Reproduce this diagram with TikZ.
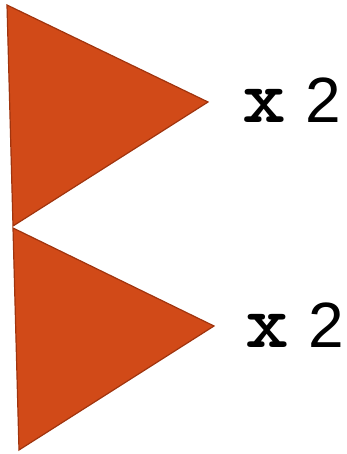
\documentclass[tikz,border=0pt]{standalone}
\usepackage{fontspec}
\setmainfont{Liberation Sans}
\newfontfamily\xmono{lmmonolt10-bold.otf}
\usetikzlibrary{positioning}
\definecolor{flagfill}{RGB}{209, 74, 24}
\definecolor{flagline}{RGB}{160, 52, 14}
\newcommand{\timestwo}{{\xmono\fontsize{76}{76}\selectfont\scalebox{1.1}[1]{x}}\hspace{19pt}2}

\begin{document}
\begin{tikzpicture}[
      x=1pt, y=-1pt,
      flag/.style={fill=flagfill, draw=flagline, line width=1.2pt, line join=miter},
      count/.style={anchor=base west, inner sep=0pt, font=\fontsize{64}{64}\selectfont}
    ]
      \useasboundingbox (0,0) rectangle (347,454);
      % upper triangle
      \coordinate (T1a) at (7,5);
      \coordinate (T1b) at (208,102);
      \coordinate (T1c) at (13,226);
      \draw [flag] (T1a) -- (T1b) -- (T1c) -- cycle;
      % lower triangle
      \coordinate (T2a) at (13,228);
      \coordinate (T2b) at (214,326);
      \coordinate (T2c) at (19,450);
      \draw [flag] (T2a) -- (T2b) -- (T2c) -- cycle;

      \node [count] (N1) at (242,123) {\timestwo};
      \node [count] (N2) at (245,347) {\timestwo};
    \end{tikzpicture}
\end{document}
